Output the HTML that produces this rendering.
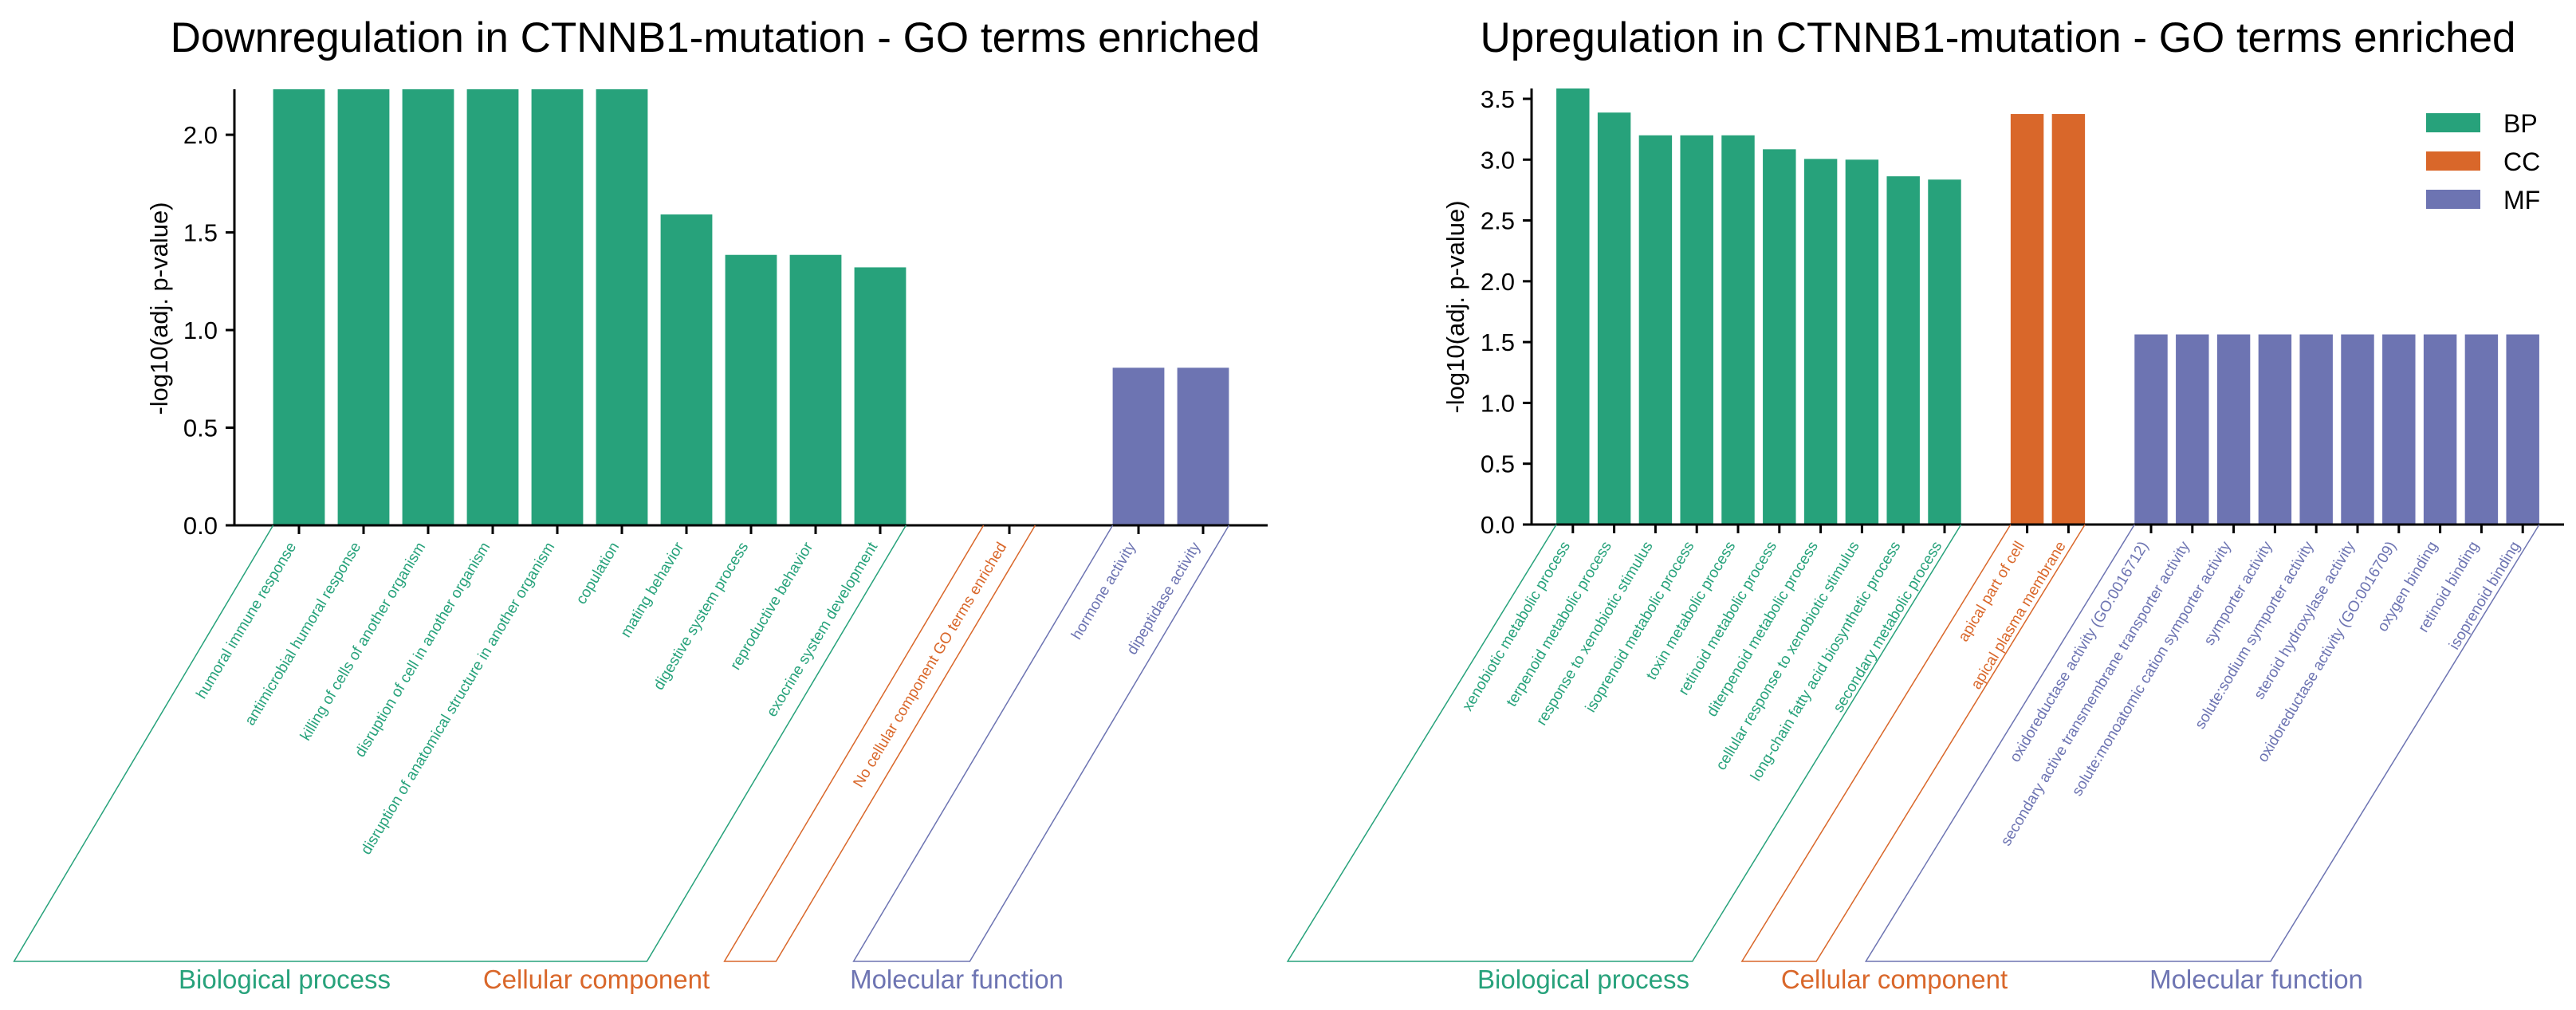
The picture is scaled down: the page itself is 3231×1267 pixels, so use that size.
<!DOCTYPE html>
<html><head><meta charset="utf-8"><style>
html,body{margin:0;padding:0;background:#fff;}
svg{display:block;font-family:"Liberation Sans",Arial,sans-serif;}
</style></head><body>
<svg id="fig" width="3231" height="1267" viewBox="0 0 3231 1267" xmlns="http://www.w3.org/2000/svg"></svg>
<script>
const leftCats=["humoral immune response","antimicrobial humoral response","killing of cells of another organism","disruption of cell in another organism","disruption of anatomical structure in another organism","copulation","mating behavior","digestive system process","reproductive behavior","exocrine system development","No cellular component GO terms enriched","hormone activity","dipeptidase activity"];
const leftVals=[2.233,2.233,2.233,2.233,2.233,2.233,1.592,1.385,1.385,1.321,null,0.807,0.807];
const leftGroups=["BP","BP","BP","BP","BP","BP","BP","BP","BP","BP","CC","MF","MF"];
const leftIdx=[0,1,2,3,4,5,6,7,8,9,11,13,14];
const leftYTicks=["0.0","0.5","1.0","1.5","2.0"];
const rightCats=["xenobiotic metabolic process","terpenoid metabolic process","response to xenobiotic stimulus","isoprenoid metabolic process","toxin metabolic process","retinoid metabolic process","diterpenoid metabolic process","cellular response to xenobiotic stimulus","long-chain fatty acid biosynthetic process","secondary metabolic process","apical part of cell","apical plasma membrane","oxidoreductase activity (GO:0016712)","secondary active transmembrane transporter activity","solute:monoatomic cation symporter activity","symporter activity","solute:sodium symporter activity","steroid hydroxylase activity","oxidoreductase activity (GO:0016709)","oxygen binding","retinoid binding","isoprenoid binding"];
const rightVals=[3.585,3.387,3.200,3.200,3.200,3.085,3.006,3.000,2.863,2.836,3.375,3.375,1.563,1.563,1.563,1.563,1.563,1.563,1.563,1.563,1.563,1.563];
const rightGroups=["BP","BP","BP","BP","BP","BP","BP","BP","BP","BP","CC","CC","MF","MF","MF","MF","MF","MF","MF","MF","MF","MF"];
const rightIdx=[0,1,2,3,4,5,6,7,8,9,11,12,14,15,16,17,18,19,20,21,22,23];
const rightYTicks=["0.0","0.5","1.0","1.5","2.0","2.5","3.0","3.5"];
const colors={BP:"#27a27b",CC:"#d9672a",MF:"#6d74b2"};
const groupNames={BP:"Biological process",CC:"Cellular component",MF:"Molecular function"};
const NS="http://www.w3.org/2000/svg";
const svg=document.getElementById('fig');
function mk(tag,attrs,parent){const e=document.createElementNS(NS,tag);for(const k in attrs)e.setAttribute(k,attrs[k]);(parent||svg).appendChild(e);return e;}

function drawPanel(p){
  const g=mk('g',{});
  
  
  const maxV=Math.max(...p.vals.filter(v=>v!==null));
  const xs=i=>p.x0+(i-p.xmin)/(p.xmax-p.xmin)*(p.x1-p.x0);
  const ys=v=>p.y0-v/maxV*(p.y0-p.ytop);
  const step=xs(1)-xs(0);
  const t=mk('text',{x:p.titleX,y:65,'font-size':53,'text-anchor':'middle',fill:'#000'},g);
  t.textContent=p.title;
  
  
  p.vals.forEach((v,k)=>{
    if(v===null)return;
    const c=xs(p.idx[k]);
    const r=mk('rect',{x:c-0.4*step,y:ys(v),width:0.8*step,height:p.y0-ys(v),fill:colors[p.groups[k]]},g);
    
    
  });
  p.yticks.forEach(s=>{
    const v=parseFloat(s),y=ys(v);
    mk('line',{x1:p.x0-11,x2:p.x0,y1:y,y2:y,stroke:'#000','stroke-width':3},g);
    const tt=mk('text',{x:p.x0-21,y:y+11,'font-size':31,'text-anchor':'end'},g);
    tt.textContent=s;
    
    
  });
  const ls=mk('line',{x1:p.x0,x2:p.x0,y1:p.ytop,y2:p.y0+1.5,stroke:'#000','stroke-width':3},g);
  
  
  const bs=mk('line',{x1:p.x0-1.5,x2:p.x1,y1:p.y0,y2:p.y0,stroke:'#000','stroke-width':3},g);
  
  
  const yt=mk('text',{x:0,y:0,'font-size':31,'text-anchor':'middle',transform:`translate(${p.ytX},${p.ytY}) rotate(-90)`},g);
  yt.textContent='-log10(adj. p-value)';
  
  
  p.cats.forEach((c,k)=>{
    const x=xs(p.idx[k]);
    mk('line',{x1:x,x2:x,y1:p.y0,y2:p.y0+11,stroke:'#000','stroke-width':3},g);
    const lt=mk('text',{x:0,y:0,'font-size':19,'text-anchor':'end',fill:colors[p.groups[k]],transform:`translate(${x-3},${p.y0+26}) rotate(-59)`},g);
    lt.textContent=c;
    
    
  });
  const dy=1206-p.y0, dx=p.shift;
  ['BP','CC','MF'].forEach(gr=>{
    const ids=p.idx.filter((_,k)=>p.groups[k]===gr);
    const a=xs(Math.min(...ids))-0.4*step, b=xs(Math.max(...ids))+0.4*step;
    const br=mk('polyline',{points:`${a},${p.y0} ${a-dx},${p.y0+dy} ${b-dx},${p.y0+dy} ${b},${p.y0}`,fill:'none',stroke:colors[gr],'stroke-width':1.5},g);
    
    
    const gl=mk('text',{x:p.labelX[gr],y:1240,'font-size':33,'text-anchor':'middle',fill:colors[gr]},g);
    gl.textContent=groupNames[gr];
    
    
  });
}
drawPanel({name:'downregulation-chart',title:'Downregulation in CTNNB1-mutation - GO terms enriched',titleX:897,
  cats:leftCats,vals:leftVals,groups:leftGroups,idx:leftIdx,yticks:leftYTicks,
  x0:294,x1:1590,xmin:-1,xmax:15,y0:659,ytop:112,ytX:210,ytY:387,shift:325,
  labelX:{BP:357,CC:748,MF:1200}});
drawPanel({name:'upregulation-chart',title:'Upregulation in CTNNB1-mutation - GO terms enriched',titleX:2506,
  cats:rightCats,vals:rightVals,groups:rightGroups,idx:rightIdx,yticks:rightYTicks,
  x0:1921,x1:3216,xmin:-1,xmax:24,y0:658,ytop:111,ytX:1836,ytY:385,shift:337,
  labelX:{BP:1986,CC:2376,MF:2830}});
const lg=mk('g',{});


['BP','CC','MF'].forEach((k,i)=>{
  const y=142+i*48;
  const r=mk('rect',{x:3043,y:y,width:68,height:24,fill:colors[k]},lg);
  
  
  const t=mk('text',{x:3140,y:y+24,'font-size':32},lg);
  t.textContent=k;
  
  
});
</script>
</body></html>
